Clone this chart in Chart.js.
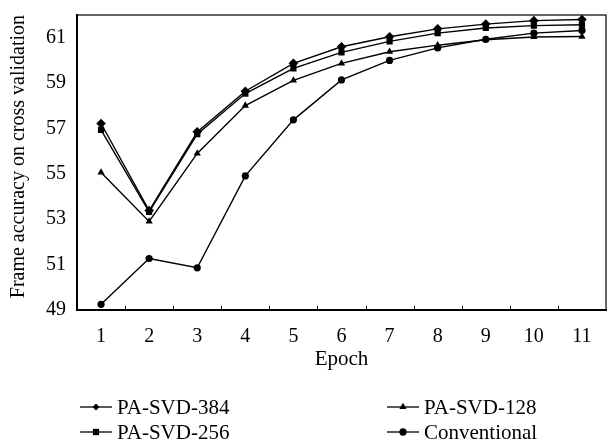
<!DOCTYPE html>
<html>
<head>
<meta charset="utf-8">
<script src="https://cdn.jsdelivr.net/npm/chart.js@4"></script>
<style>
  html, body { margin: 0; padding: 0; background: #fff; }
  #wrap { width: 612px; height: 445px; }
</style>
</head>
<body>
<div id="wrap"><canvas id="accChart" width="612" height="445"></canvas></div>
<script>
var epochs = ["1", "2", "3", "4", "5", "6", "7", "8", "9", "10", "11"];
var yTicks = [49, 51, 53, 55, 57, 59, 61];

var svd384 = [57.22, 53.38, 56.85, 58.64, 59.87, 60.6, 61.04, 61.39, 61.6, 61.75, 61.8];
var svd256 = [56.94, 53.32, 56.75, 58.54, 59.65, 60.35, 60.84, 61.2, 61.43, 61.53, 61.57];
var svd128 = [55.06, 52.9, 55.9, 58.01, 59.12, 59.87, 60.38, 60.67, 60.91, 61.03, 61.05];
var conventional = [49.25, 51.27, 50.86, 54.91, 57.38, 59.14, 60.0, 60.55, 60.93, 61.2, 61.32];

var serif = "'Liberation Serif', 'DejaVu Serif', serif";

// little tick marks inside the plot, between the epochs, plus thin frame
var frameTicks = {
    id: "frameTicks",
    afterDatasetsDraw: function(chart) {
        var ctx = chart.ctx;
        var area = chart.chartArea;
        var xs = chart.scales.x;
        ctx.save();
        ctx.strokeStyle = "#000";
        ctx.lineWidth = 1.2;
        ctx.strokeRect(area.left, area.top, area.right - area.left, area.bottom - area.top);
        ctx.lineWidth = 1;
        for (var i = 0; i < epochs.length - 1; i++) {
            var x = Math.round(xs.getPixelForValue(i + 0.5)) + 0.5;
            ctx.beginPath();
            ctx.moveTo(x, area.bottom);
            ctx.lineTo(x, area.bottom - 4);
            ctx.stroke();
        }
        ctx.restore();
    }
};

// two column legend below the axis title
var sideLegend = {
    id: "sideLegend",
    afterDraw: function(chart) {
        var ctx = chart.ctx;
        var cols = [80, 387];
        var rows = [407, 432];
        var markerSize = [2.6, 3.4, 3.2, 2.8];
        ctx.save();
        ctx.font = "21px " + serif;
        ctx.textBaseline = "middle";
        ctx.fillStyle = "#000";
        chart.data.datasets.forEach(function(ds, i) {
            var x = cols[Math.floor(i / 2)];
            var y = rows[i % 2];
            ctx.strokeStyle = "#000";
            ctx.lineWidth = 1.3;
            ctx.beginPath();
            ctx.moveTo(x, y);
            ctx.lineTo(x + 32, y);
            ctx.stroke();
            Chart.helpers.drawPoint(ctx, {
                pointStyle: ds.pointStyle,
                radius: markerSize[i] * 1.3,
                borderWidth: 0
            }, x + 16, y);
            ctx.fillStyle = "#000";
            ctx.fillText(ds.label, x + 37, y + 1);
        });
        ctx.restore();
    }
};

function series(label, data, style, radius) {
    return {
        label: label,
        data: data,
        borderColor: "#000",
        backgroundColor: "#000",
        borderWidth: 1.4,
        pointStyle: style,
        pointRadius: radius,
        pointBorderWidth: 0,
        pointBackgroundColor: "#000",
        tension: 0
    };
}

var ctx = document.getElementById("accChart").getContext("2d");
var chart = new Chart(ctx, {
    type: "line",
    data: {
        labels: epochs,
        datasets: [
            series("PA-SVD-384", svd384, "rectRot", 4.8),
            series("PA-SVD-256", svd256, "rect", 4.4),
            series("PA-SVD-128", svd128, "triangle", 4.2),
            series("Conventional", conventional, "circle", 3.6)
        ]
    },
    options: {
        responsive: false,
        animation: false,
        layout: {
            padding: { left: 0, right: 6, top: 11, bottom: 65 }
        },
        plugins: {
            legend: { display: false },
            tooltip: { enabled: false }
        },
        scales: {
            x: {
                type: "category",
                offset: true,
                grid: { display: false },
                border: { display: true, color: "#000", width: 2 },
                ticks: {
                    color: "#000",
                    padding: 7,
                    maxRotation: 0,
                    autoSkip: false,
                    font: { family: serif, size: 20 }
                },
                title: {
                    display: true,
                    text: "Epoch",
                    color: "#000",
                    padding: { top: 0, bottom: 8 },
                    font: { family: serif, size: 21 }
                },
                afterFit: function(scale) { scale.height = 70; }
            },
            y: {
                min: 49,
                max: 62,
                grid: { display: false },
                border: { display: true, color: "#000", width: 2 },
                ticks: {
                    color: "#000",
                    padding: 3,
                    font: { family: serif, size: 20 }
                },
                afterBuildTicks: function(scale) {
                    scale.ticks = yTicks.map(function(v) { return { value: v }; });
                },
                title: {
                    display: true,
                    text: "Frame accuracy on cross validation",
                    color: "#000",
                    align: "end",
                    padding: { top: 7, bottom: 0 },
                    font: { family: serif, size: 20 }
                },
                afterFit: function(scale) { scale.width = 77; }
            }
        }
    },
    plugins: [frameTicks, sideLegend]
});
</script>
</body>
</html>
